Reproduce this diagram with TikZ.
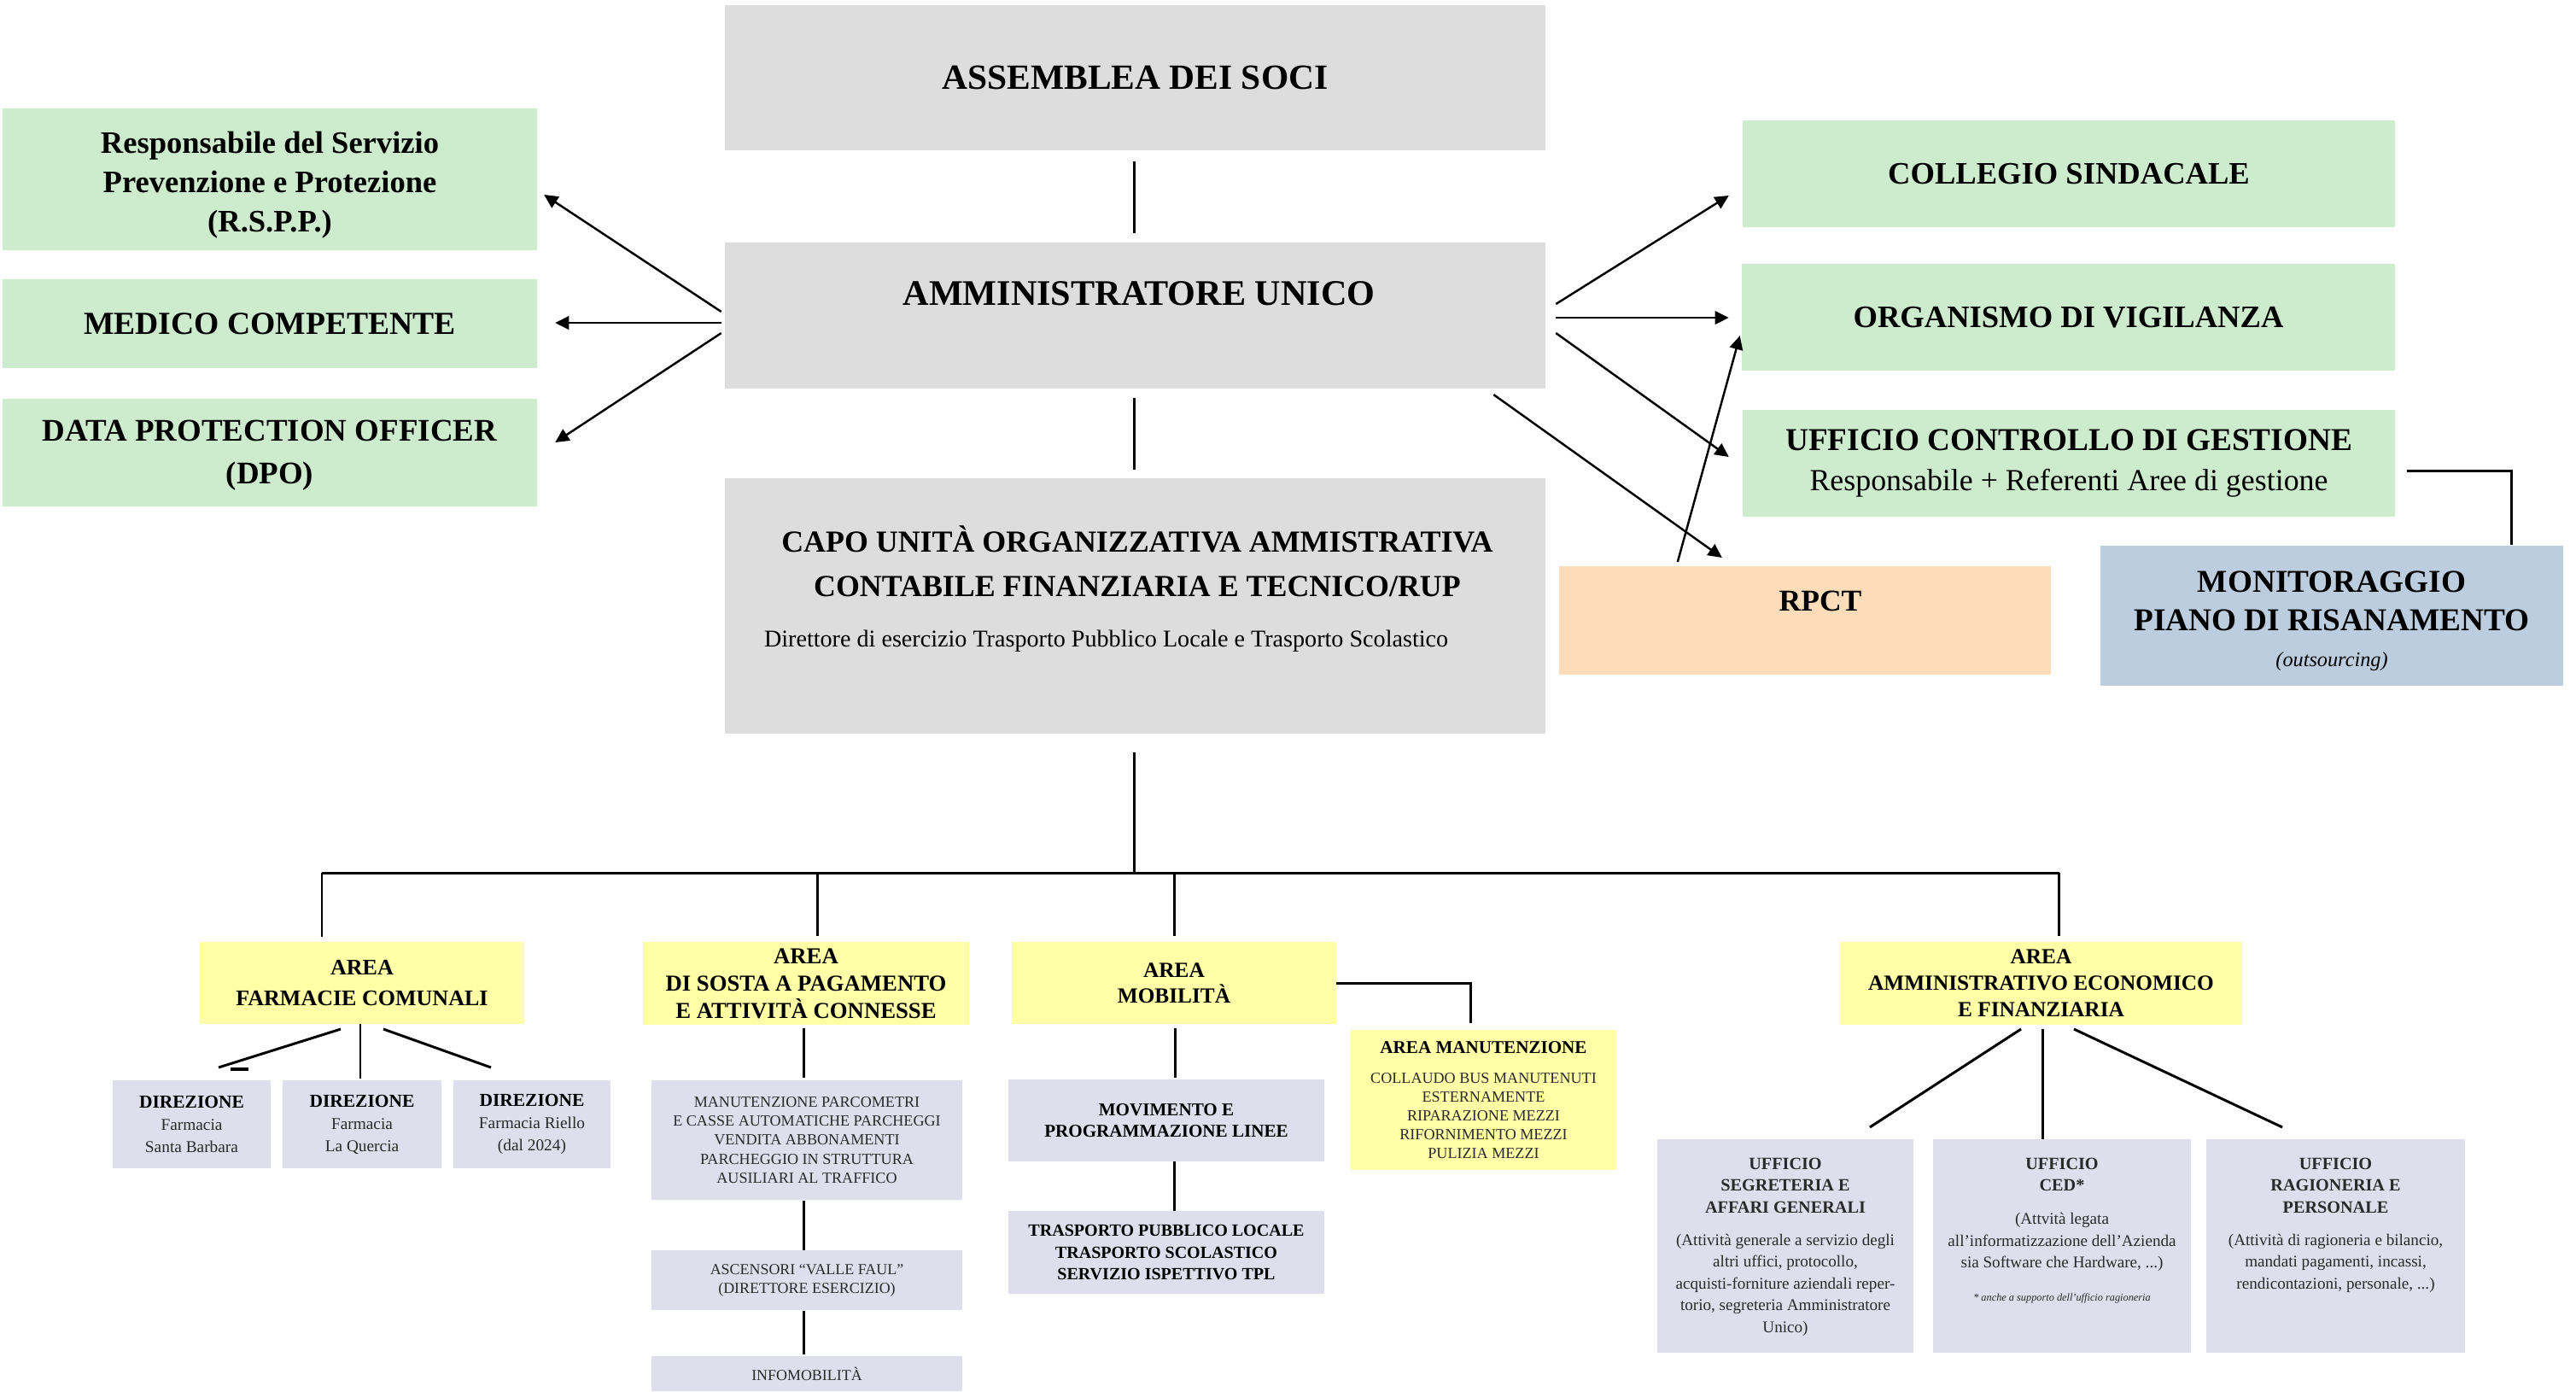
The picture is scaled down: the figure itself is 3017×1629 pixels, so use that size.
\documentclass[tikz,border=0pt]{standalone}
\usepackage{fontspec}
\setmainfont{Liberation Serif}
\usetikzlibrary{arrows.meta,calc}
\definecolor{cgrey}{HTML}{DDDDDD}
\definecolor{cgreen}{HTML}{CDECCD}
\definecolor{cyellow}{HTML}{FFFFA8}
\definecolor{clav}{HTML}{DEDEED}
\definecolor{cpeach}{HTML}{FDDCBA}
\definecolor{cblue}{HTML}{BBCDDE}
\definecolor{ctext}{HTML}{2A2A2A}
\newcommand{\ufhead}[1]{{\fontsize{5.75}{7.25}\selectfont\bfseries #1}}
\begin{document}
\begin{tikzpicture}[x=0.01cm,y=-0.01cm,
 box/.style={inner sep=0pt, outer sep=0pt, align=center},
 gbox/.style={box, fill=cgrey},
 grbox/.style={box, fill=cgreen},
 ybox/.style={box, fill=cyellow},
 lbox/.style={box, fill=clav},
 txt/.style={inner sep=0pt, outer sep=0pt, align=center},
 tline/.style={line width=0.85pt},
 arr/.style={line width=0.7pt, -{Triangle[length=4.6pt,width=4.4pt]}}
]
\useasboundingbox (0,0) rectangle (3017,1629);
\fill[white] (0,0) rectangle (3017,1629);

% ---- top column
\node[gbox, minimum width=9.61cm, minimum height=1.70cm, font=\fontsize{11.8}{14}\selectfont\bfseries] (assemblea) at (1329.5,91) {ASSEMBLEA DEI SOCI};
\node[gbox, minimum width=9.61cm, minimum height=1.71cm] (amm) at (1329.5,369.5) {};
\node[txt, font=\fontsize{12}{14}\selectfont\bfseries] (ammT) at (1334,344) {AMMINISTRATORE UNICO};
\node[gbox, minimum width=9.61cm, minimum height=2.99cm] (capo) at (1329.5,709.5) {};
\node[txt, font=\fontsize{10.2}{14.8}\selectfont\bfseries] (capoT) at (1332,657) {CAPO UNITÀ ORGANIZZATIVA AMMISTRATIVA\\CONTABILE FINANZIARIA E TECNICO/RUP};
\node[txt, anchor=west, font=\fontsize{8}{10}\selectfont] (capoD) at (895,751) {Direttore di esercizio Trasporto Pubblico Locale e Trasporto Scolastico};

% ---- left column
\node[grbox, minimum width=6.26cm, minimum height=1.66cm] (rspp) at (316,210) {};
\node[txt, font=\fontsize{10.4}{13.1}\selectfont\bfseries] (rsppT) at (316,217) {Responsabile del Servizio\\Prevenzione e Protezione\\(R.S.P.P.)};
\node[grbox, minimum width=6.26cm, minimum height=1.04cm, font=\fontsize{10.7}{13}\selectfont\bfseries] (medico) at (316,379) {MEDICO COMPETENTE};
\node[grbox, minimum width=6.26cm, minimum height=1.26cm] (dpo) at (316,530) {};
\node[txt, font=\fontsize{10.5}{14.2}\selectfont\bfseries] (dpoT) at (316,533) {DATA PROTECTION OFFICER\\(DPO)};

% ---- right column
\node[grbox, minimum width=7.64cm, minimum height=1.25cm, font=\fontsize{10.4}{13}\selectfont\bfseries] (collegio) at (2423,203.5) {COLLEGIO SINDACALE};
\node[grbox, minimum width=7.65cm, minimum height=1.25cm, font=\fontsize{10.4}{13}\selectfont\bfseries] (organismo) at (2422.5,371.5) {ORGANISMO DI VIGILANZA};
\node[grbox, minimum width=7.64cm, minimum height=1.25cm, font=\fontsize{10.6}{13.4}\selectfont] (ucg) at (2423,542.5) {\textbf{UFFICIO CONTROLLO DI GESTIONE}\\{\fontsize{10.2}{13.4}\selectfont Responsabile + Referenti Aree di gestione}};
\node[box, fill=cpeach, minimum width=5.76cm, minimum height=1.27cm] (rpct) at (2114,726.5) {};
\node[txt, font=\fontsize{10.1}{12}\selectfont\bfseries] (rpctT) at (2132,704) {RPCT};
\node[box, fill=cblue, minimum width=5.42cm, minimum height=1.64cm] (monit) at (2731,721) {};
\node[txt, font=\fontsize{10.6}{12.8}\selectfont\bfseries] (monitT) at (2731,727) {MONITORAGGIO\\PIANO DI RISANAMENTO\\[-1pt]{\fontsize{6.9}{12.8}\selectfont\mdseries\itshape (outsourcing)}};

% ---- areas
\node[ybox, minimum width=3.80cm, minimum height=0.96cm, font=\fontsize{7.4}{10}\selectfont\bfseries] (farm) at (424,1151) {AREA\\FARMACIE COMUNALI};
\node[ybox, minimum width=3.82cm, minimum height=0.97cm, font=\fontsize{7.6}{9.1}\selectfont\bfseries] (sosta) at (944,1151.5) {AREA\\DI SOSTA A PAGAMENTO\\E ATTIVITÀ CONNESSE};
\node[ybox, minimum width=3.80cm, minimum height=0.96cm, font=\fontsize{7.2}{8.6}\selectfont\bfseries] (mob) at (1375,1151) {AREA\\MOBILITÀ};
\node[ybox, minimum width=4.71cm, minimum height=0.97cm, font=\fontsize{7.2}{8.8}\selectfont\bfseries] (ammarea) at (2390.5,1151.5) {AREA\\AMMINISTRATIVO ECONOMICO\\E FINANZIARIA};

% ---- farmacie
\node[lbox, minimum width=1.85cm, minimum height=1.03cm, text=ctext, font=\fontsize{5.5}{7.4}\selectfont] (dir1) at (224.5,1316.5) {{\color{black}\fontsize{6.1}{7.4}\selectfont\bfseries DIREZIONE}\\Farmacia\\Santa Barbara};
\node[lbox, minimum width=1.86cm, minimum height=1.03cm, text=ctext, font=\fontsize{5.5}{7.4}\selectfont] (dir2) at (424,1316.5) {{\color{black}\fontsize{6.1}{7.4}\selectfont\bfseries DIREZIONE}\\Farmacia\\La Quercia};
\node[lbox, minimum width=1.84cm, minimum height=1.03cm, text=ctext, font=\fontsize{5.5}{7.4}\selectfont] (dir3) at (623,1316.5) {{\color{black}\fontsize{6.1}{7.4}\selectfont\bfseries DIREZIONE}\\Farmacia Riello\\(dal 2024)};

% ---- sosta
\node[lbox, minimum width=3.64cm, minimum height=1.40cm, text=ctext, font=\fontsize{5.15}{6.3}\selectfont] (parc) at (945,1335) {MANUTENZIONE PARCOMETRI\\E CASSE AUTOMATICHE PARCHEGGI\\VENDITA ABBONAMENTI\\PARCHEGGIO IN STRUTTURA\\AUSILIARI AL TRAFFICO};
\node[lbox, minimum width=3.64cm, minimum height=0.70cm, text=ctext, font=\fontsize{5.1}{6.3}\selectfont] (asc) at (945,1499) {ASCENSORI “VALLE FAUL”\\(DIRETTORE ESERCIZIO)};
\node[lbox, minimum width=3.64cm, minimum height=0.41cm, text=ctext, font=\fontsize{5.1}{6.3}\selectfont] (info) at (945,1608.5) {INFOMOBILITÀ};

% ---- mobilita
\node[lbox, minimum width=3.70cm, minimum height=0.96cm, font=\fontsize{6}{7.1}\selectfont\bfseries] (movim) at (1366,1312) {MOVIMENTO E\\PROGRAMMAZIONE LINEE};
\node[lbox, minimum width=3.70cm, minimum height=0.97cm, font=\fontsize{5.7}{7.25}\selectfont\bfseries] (tpl) at (1366,1466.5) {TRASPORTO PUBBLICO LOCALE\\TRASPORTO SCOLASTICO\\SERVIZIO ISPETTIVO TPL};
\node[ybox, minimum width=3.11cm, minimum height=1.64cm, text=ctext, font=\fontsize{5.15}{6.3}\selectfont] (manut) at (1737.5,1288) {{\color{black}\fontsize{6}{6.3}\selectfont\bfseries AREA MANUTENZIONE}\\[3.7pt]COLLAUDO BUS MANUTENUTI\\ESTERNAMENTE\\RIPARAZIONE MEZZI\\RIFORNIMENTO MEZZI\\PULIZIA MEZZI};

% ---- amministrativo
\node[lbox, minimum width=3.00cm, minimum height=2.50cm] (uff1) at (2091,1459) {};
\node[lbox, minimum width=3.02cm, minimum height=2.50cm] (uff2) at (2415,1459) {};
\node[lbox, minimum width=3.03cm, minimum height=2.50cm] (uff3) at (2735.5,1459) {};
\node[txt, anchor=north, text=ctext, font=\fontsize{5.44}{7.25}\selectfont] (uff1T) at ($(uff1.north)+(0,22)$) {\ufhead{UFFICIO}\\\ufhead{SEGRETERIA E}\\\ufhead{AFFARI GENERALI}\\[3.6pt](Attività generale a servizio degli\\altri uffici, protocollo,\\acquisti-forniture aziendali reper-\\torio, segreteria Amministratore\\Unico)};
\node[txt, anchor=north, text=ctext, font=\fontsize{5.44}{7.25}\selectfont] (uff2T) at ($(uff2.north)+(0,22)$) {\ufhead{UFFICIO}\\\ufhead{CED*}\\[3.8pt](Attvità legata\\all’informatizzazione dell’Azienda\\sia Software che Hardware, ...)\\[3.8pt]{\fontsize{3.5}{7.25}\selectfont\itshape * anche a supporto dell’ufficio ragioneria}};
\node[txt, anchor=north, text=ctext, font=\fontsize{5.44}{7.25}\selectfont] (uff3T) at ($(uff3.north)+(0,22)$) {\ufhead{UFFICIO}\\\ufhead{RAGIONERIA E}\\\ufhead{PERSONALE}\\[3.6pt](Attività di ragioneria e bilancio,\\mandati pagamenti, incassi,\\rendicontazioni, personale, ...)};

% ---- top connectors
\draw[tline] ($(assemblea.south)+(-1.5,13)$) -- ($(amm.north)+(-1.5,-11)$);
\draw[tline] ($(amm.south)+(-1.5,11)$) -- ($(capo.north)+(-1.5,-10)$);

% ---- arrows
\draw[arr] ($(amm.west)+(-4,-4.5)$) -- ($(rspp.east)+(8,18)$);
\draw[arr] ($(amm.west)+(-4,8.5)$) -- ($(medico.east)+(21,-1)$);
\draw[arr] ($(amm.west)+(-4,20.5)$) -- ($(dpo.east)+(21,-12)$);
\draw[arr] ($(amm.east)+(12,-13.5)$) -- ($(collegio.west)+(-16,25.5)$);
\draw[arr] ($(amm.east)+(12,2.5)$) -- ($(organismo.west)+(-15,0.5)$);
\draw[arr] ($(amm.east)+(12,20.5)$) -- ($(ucg.west)+(-16,-7.5)$);
\draw[arr] ($(amm.south east)+(-61,7)$) -- ($(rpct.north west)+(191,-10)$);
\draw[arr] ($(rpct.north west)+(139,-5)$) -- ($(organismo.south west)+(-2,-41)$);
\draw[tline] ($(ucg.east)+(14,8.5)$) -| ($(monit.north)+(210,-1)$);

% ---- bus
\coordinate (busC) at (1328,1022);
\coordinate (busL) at (377,1022);
\coordinate (busR) at (2412,1022);
\draw[tline] ($(capo.south)+(-1.5,22)$) -- (busC);
\draw[tline] (busL) -- (busR);
\draw[tline] (busL) -- ($(farm.north)+(-47,-6)$);
\draw[tline] ($(sosta.north)+(13,-81)$) -- ($(sosta.north)+(13,-7)$);
\draw[tline] ($(mob.north)+(0,-81)$) -- ($(mob.north)+(0,-7)$);
\draw[tline] ($(ammarea.north)+(21,-81)$) -- ($(ammarea.north)+(21,-7)$);

% ---- farm children
\draw[tline] ($(farm.south)+(-25,6)$) -- ($(dir1.north)+(31.5,-15)$);
\draw[line width=1.4pt] ($(dir1.north)+(45.5,-13)$) -- ($(dir1.north)+(66.5,-13)$);
\draw[tline] ($(farm.south)+(-2,0)$) -- ($(dir2.north)+(-2,-2)$);
\draw[tline] ($(farm.south)+(25,6)$) -- ($(dir3.north)+(-48,-15)$);

% ---- sosta chain
\draw[tline] ($(sosta.south)+(-3,4)$) -- ($(parc.north)+(-4,-3)$);
\draw[tline] ($(parc.south)+(-4,1)$) -- ($(asc.north)+(-4,0)$);
\draw[tline] ($(asc.south)+(-4,1)$) -- ($(info.north)+(-4,-2)$);

% ---- mobilita chain
\draw[tline] ($(mob.south)+(1,5)$) -- ($(movim.north)+(10,-2)$);
\draw[tline] ($(movim.south)+(9,0)$) -- ($(tpl.north)+(9,0)$);
\draw[tline] (mob.east) -| ($(manut.north)+(-15.5,-8)$);

% ---- amministrativo children
\draw[tline] ($(ammarea.south)+(-23.5,5)$) -- ($(uff1.north)+(99,-14)$);
\draw[tline] ($(ammarea.south)+(1.5,5)$) -- ($(uff2.north)+(-23,0)$);
\draw[tline] ($(ammarea.south)+(38.5,5)$) -- ($(uff3.north)+(-62.5,-14)$);
\end{tikzpicture}
\end{document}
